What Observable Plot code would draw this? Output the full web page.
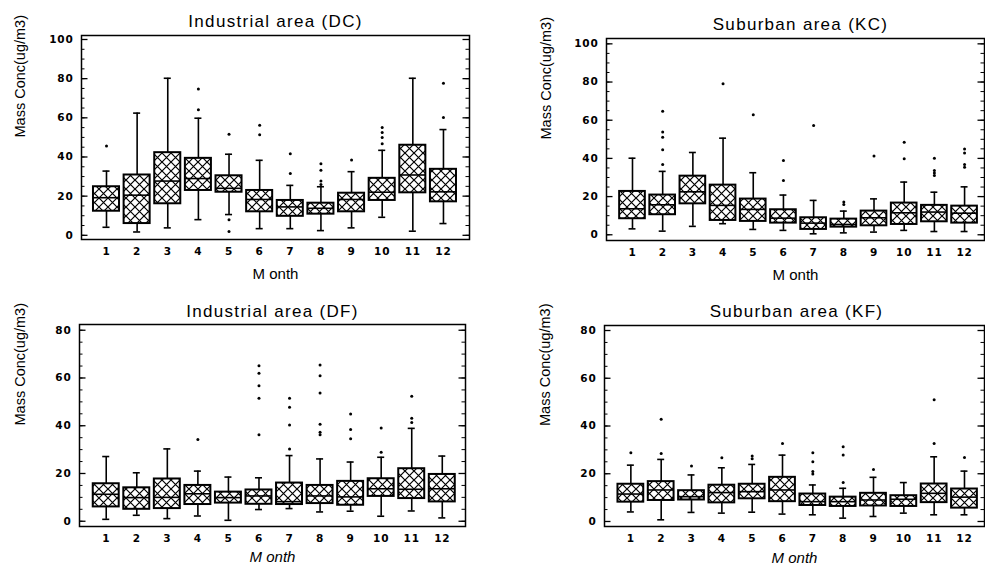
<!DOCTYPE html>
<html><head><meta charset="utf-8">
<script src="https://cdn.jsdelivr.net/npm/d3@7"></script>
<script src="https://cdn.jsdelivr.net/npm/@observablehq/plot@0.6"></script>
<style>
body{margin:0;background:#fff}
#wrap{position:relative;width:985px;height:565px;overflow:hidden;background:#fff}
.panel{position:absolute}
.panel svg{overflow:visible;display:block}
</style></head><body><div id="wrap"></div>
<script>
const months = [1,2,3,4,5,6,7,8,9,10,11,12];
const yMajor100 = [0,20,40,60,80,100];
const yMinor100 = [0,5,10,15,20,25,30,35,40,45,50,55,60,65,70,75,80,85,90,95,100];
const yMajor80 = [0,20,40,60,80];
const yMinor80 = [0,5,10,15,20,25,30,35,40,45,50,55,60,65,70,75,80];

// Industrial area (DC)
const dcLow  = [4.1, 1.7, 3.8, 8.0, 10.6, 3.4, 3.4, 2.4, 3.8, 9.2, 2.1, 6.0];
const dcQ1   = [12.3, 6.0, 16.1, 22.9, 22.0, 12.0, 9.7, 10.8, 12.0, 17.8, 21.7, 17.1];
const dcMed  = [19.2, 20.5, 27.7, 29.0, 24.0, 18.3, 14.5, 13.8, 18.3, 22.0, 30.8, 22.2];
const dcQ3   = [24.8, 30.8, 42.2, 39.3, 30.4, 22.9, 17.8, 16.4, 21.5, 29.1, 46.0, 33.7];
const dcHigh = [32.8, 62.4, 80.2, 59.8, 41.4, 38.3, 25.5, 24.8, 32.5, 43.4, 80.2, 54.0];
const dcOut  = [[1,45.6],[4,74.7],[4,64.1],[5,51.6],[5,7.9],[5,1.9],[6,56.2],[6,51.3],[7,41.7],[7,31.6],[8,36.6],[8,33.2],[8,27.7],[8,26.0],[9,38.5],[10,55.0],[10,52.5],[10,49.9],[10,46.8],[12,77.6],[12,60.2]];

// Suburban area (KC)
const kcLow  = [3.1, 1.9, 4.4, 5.8, 2.8, 2.3, 0.5, 1.0, 1.4, 2.3, 1.7, 1.7];
const kcQ1   = [8.4, 10.5, 16.2, 7.5, 7.0, 6.1, 2.8, 4.0, 4.7, 5.4, 6.8, 6.1];
const kcMed  = [13.6, 15.7, 22.5, 15.4, 13.3, 8.7, 6.1, 5.4, 8.9, 11.5, 11.9, 11.3];
const kcQ3   = [22.7, 20.8, 30.7, 26.0, 18.7, 13.1, 8.9, 8.2, 12.4, 16.6, 15.4, 15.0];
const kcHigh = [40.1, 33.2, 43.1, 50.6, 32.5, 20.8, 18.0, 12.4, 18.8, 27.6, 22.3, 25.1];
const kcOut  = [[2,64.7],[2,53.8],[2,51.1],[2,44.5],[2,36.8],[4,79.1],[5,62.8],[6,38.9],[6,28.4],[7,57.2],[8,17.1],[8,15.9],[9,41.2],[10,48.5],[10,39.8],[11,40.1],[11,33.7],[11,32.3],[11,31.1],[12,44.9],[12,42.8],[12,36.8],[12,35.4]];

// Industrial area (DF)
const dfLow  = [0.8, 2.5, 1.1, 2.2, 0.4, 4.9, 5.3, 3.9, 4.2, 2.1, 4.3, 1.4];
const dfQ1   = [6.0, 5.0, 5.3, 7.0, 7.6, 7.1, 7.0, 7.4, 6.7, 10.4, 9.5, 8.1];
const dfMed  = [11.3, 9.9, 10.0, 11.5, 9.9, 10.6, 8.2, 10.6, 10.2, 13.6, 13.4, 13.6];
const dfQ3   = [15.7, 14.0, 17.7, 15.0, 12.2, 13.1, 16.0, 15.0, 16.7, 17.8, 22.0, 19.6];
const dfHigh = [27.1, 20.3, 30.3, 21.0, 18.5, 18.2, 27.5, 26.1, 24.8, 26.8, 38.9, 27.3];
const dfOut  = [[4,34.2],[6,65.1],[6,62.0],[6,56.7],[6,51.5],[6,36.2],[7,51.5],[7,47.7],[7,40.3],[7,30.3],[8,65.4],[8,60.9],[8,53.7],[8,40.6],[8,37.3],[8,36.2],[9,44.9],[9,38.4],[9,34.5],[10,39.1],[10,28.9],[11,52.3],[11,43.1],[11,41.4]];

// Suburban area (KF)
const kfLow  = [4.0, 0.7, 3.8, 3.5, 3.9, 3.1, 2.8, 1.4, 2.1, 3.5, 2.8, 2.8];
const kfQ1   = [8.1, 8.8, 9.0, 7.8, 9.5, 8.3, 6.7, 6.3, 6.5, 6.3, 7.9, 5.6];
const kfMed  = [11.5, 13.2, 10.4, 12.1, 12.5, 13.2, 8.3, 8.3, 9.0, 9.3, 11.8, 10.2];
const kfQ3   = [15.6, 16.7, 12.9, 15.2, 15.6, 18.5, 11.5, 10.2, 11.8, 10.8, 15.7, 13.6];
const kfHigh = [23.6, 26.0, 19.5, 22.5, 23.9, 27.8, 15.3, 13.9, 18.5, 16.3, 27.1, 21.1];
const kfOut  = [[1,28.8],[2,42.8],[2,28.5],[3,23.2],[4,26.7],[5,27.4],[5,26.3],[6,32.7],[7,28.8],[7,25.0],[7,20.9],[7,19.9],[8,31.3],[8,27.8],[8,16.3],[9,21.8],[11,51.0],[11,32.7],[12,26.8]];

const yLabel = "Mass Conc(ug/m3)";
const xLabel = "M onth";

const panels = [
  {id:"dc", title:"Industrial area (DC)", italic:false, low:dcLow, q1:dcQ1, med:dcMed, q3:dcQ3, high:dcHigh, out:dcOut,
   left:0, top:0, width:492, height:282, ml:81, mr:23, mt:35, mb:43,
   xDomain:[0.184, 12.85], yDomain:[-2.14, 102.04], major:yMajor100, minor:yMinor100,
   titleDy:-14, titleDx:0, yLabDx:-61, xLabDy:35},
  {id:"kc", title:"Suburban area (KC)", italic:false, low:kcLow, q1:kcQ1, med:kcMed, q3:kcQ3, high:kcHigh, out:kcOut,
   left:492, top:0, width:493, height:282, ml:114, mr:1, mt:38, mb:42,
   xDomain:[0.139, 12.66], yDomain:[-3.0, 102.8], major:yMajor100, minor:yMinor100,
   titleDy:-14, titleDx:5, yLabDx:-60, xLabDy:35},
  {id:"df", title:"Industrial area (DF)", italic:true, low:dfLow, q1:dfQ1, med:dfMed, q3:dfQ3, high:dfHigh, out:dfOut,
   left:0, top:282, width:492, height:283, ml:79, mr:27, mt:42, mb:39,
   xDomain:[0.125, 12.76], yDomain:[-2.2, 82.4], major:yMajor80, minor:yMinor80,
   titleDy:-13, titleDx:0, yLabDx:-59, xLabDy:31},
  {id:"kf", title:"Suburban area (KF)", italic:true, low:kfLow, q1:kfQ1, med:kfMed, q3:kfQ3, high:kfHigh, out:kfOut,
   left:492, top:282, width:493, height:283, ml:112, mr:1, mt:43, mb:39,
   xDomain:[0.131, 12.66], yDomain:[-2.1, 82.1], major:yMajor80, minor:yMinor80,
   titleDy:-13.5, titleDx:2, yLabDx:-59, xLabDy:32}
];

const tickFont = {fontFamily:"DejaVu Sans, sans-serif", fontSize:10.5, fontWeight:"bold"};
const hw = 0.425, cap = 0.115;

function makePanel(p) {
  const rows = months.map((m, i) => ({month:m, low:p.low[i], q1:p.q1[i], med:p.med[i], q3:p.q3[i], high:p.high[i]}));
  const outs = p.out.map(([m, v]) => ({month:m, value:v}));
  const pid = "hatch-" + p.id;
  const fw = p.width - p.ml - p.mr;
  const svg = Plot.plot({
    width:p.width, height:p.height,
    marginLeft:p.ml, marginRight:p.mr, marginTop:p.mt, marginBottom:p.mb,
    x:{type:"linear", domain:p.xDomain},
    y:{type:"linear", domain:p.yDomain},
    style:{background:"white", color:"black", fontFamily:"Liberation Sans, Arial, sans-serif", overflow:"visible"},
    marks:[
      Plot.ruleX(rows, {x:"month", y1:"low", y2:"q1", stroke:"black", strokeWidth:1.6}),
      Plot.ruleX(rows, {x:"month", y1:"q3", y2:"high", stroke:"black", strokeWidth:1.6}),
      Plot.ruleY(rows, {y:"low", x1:d => d.month - cap, x2:d => d.month + cap, stroke:"black", strokeWidth:1.6}),
      Plot.ruleY(rows, {y:"high", x1:d => d.month - cap, x2:d => d.month + cap, stroke:"black", strokeWidth:1.6}),
      Plot.rect(rows, {x1:d => d.month - hw, x2:d => d.month + hw, y1:"q1", y2:"q3", fill:`url(#${pid})`, stroke:"black", strokeWidth:2}),
      Plot.ruleY(rows, {y:"med", x1:d => d.month - hw, x2:d => d.month + hw, stroke:"black", strokeWidth:1.6}),
      Plot.dot(outs, {x:"month", y:"value", r:1.5, fill:"black", stroke:"none"}),
      Plot.frame({stroke:"black", strokeWidth:1.5}),
      // inward ticks on left and right edges
      Plot.tickY(p.minor, {y:d => d, insetRight:fw - 3.5, stroke:"black", strokeWidth:1}),
      Plot.tickY(p.major, {y:d => d, insetRight:fw - 6.5, stroke:"black", strokeWidth:1.3}),
      Plot.tickY(p.minor, {y:d => d, insetLeft:fw - 3.5, stroke:"black", strokeWidth:1}),
      Plot.tickY(p.major, {y:d => d, insetLeft:fw - 6.5, stroke:"black", strokeWidth:1.3}),
      Plot.axisY(p.major, {anchor:"left", tickSize:0, tickPadding:8, label:null, fill:"black", ...tickFont}),
      Plot.axisX(months, {anchor:"bottom", tickSize:0, tickPadding:8, label:null, fill:"black", ...tickFont}),
      Plot.text([p.title], {text:d => d, frameAnchor:"top", lineAnchor:"middle", dy:p.titleDy, dx:p.titleDx, fontSize:17, fill:"black"}),
      Plot.text([yLabel], {text:d => d, frameAnchor:"left", lineAnchor:"middle", rotate:-90, dx:p.yLabDx, fontSize:14.5, fill:"black"}),
      Plot.text([xLabel], {text:d => d, frameAnchor:"bottom", lineAnchor:"middle", dy:p.xLabDy, fontSize:15, fill:"black", fontStyle:p.italic ? "italic" : "normal"})
    ]
  });
  const ns = "http://www.w3.org/2000/svg";
  const defs = document.createElementNS(ns, "defs");
  defs.innerHTML = `<pattern id="${pid}" patternUnits="userSpaceOnUse" width="9" height="9"><rect width="9" height="9" fill="white"/><path d="M0,0L9,9M9,0L0,9" stroke="black" stroke-width="1.2" fill="none"/></pattern>`;
  svg.insertBefore(defs, svg.firstChild);
  svg.querySelectorAll("text").forEach(t => {
    if (t.textContent === p.title) t.setAttribute("letter-spacing", "1.3");
    if (p.major.map(String).includes(t.textContent) || months.map(String).includes(t.textContent)) t.setAttribute("letter-spacing", "0.8");
  });
  const div = document.createElement("div");
  div.className = "panel";
  div.style.left = p.left + "px";
  div.style.top = p.top + "px";
  div.appendChild(svg);
  document.getElementById("wrap").appendChild(div);
}

panels.forEach(makePanel);
</script>
</body></html>
